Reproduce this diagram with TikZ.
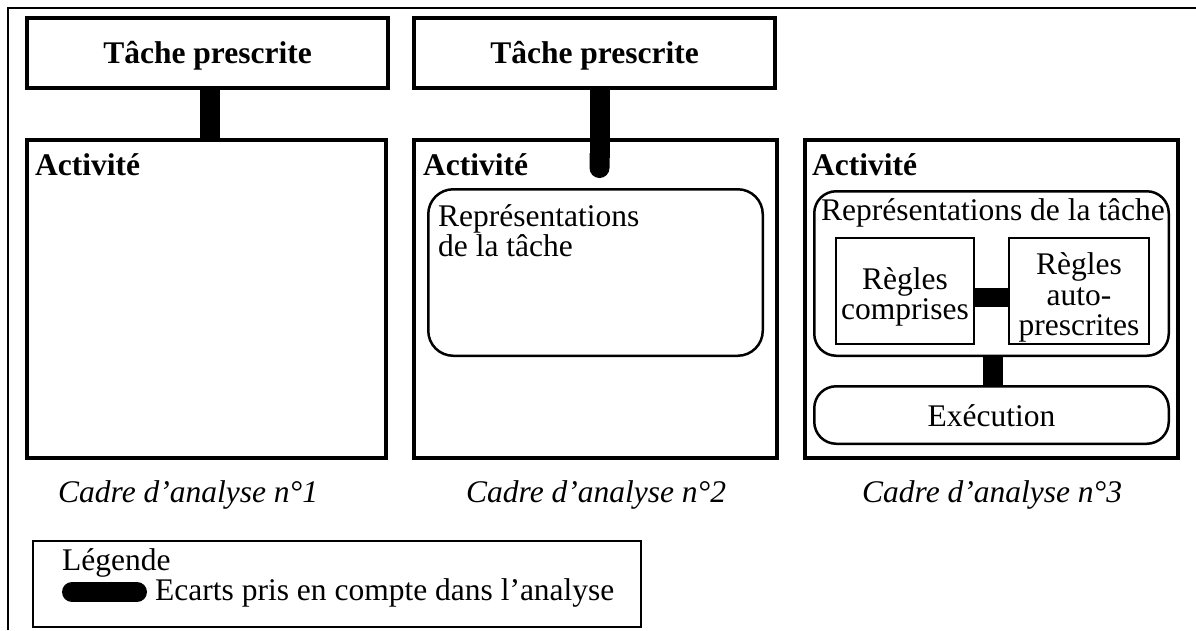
\documentclass[tikz,border=0pt]{standalone}
\usepackage{fontspec}
\setmainfont{Liberation Serif}
\usetikzlibrary{arrows.meta}
\begin{document}
\begin{tikzpicture}[x=1pt,y=-1pt,
  fnt/.style={font=\fontsize{31.5}{30.5}\selectfont},
  txt/.style={fnt, inner sep=0pt},
  boldtxt/.style={font=\fontsize{31.5}{30.5}\selectfont\bfseries, inner sep=0pt},
  captxt/.style={font=\fontsize{31.5}{30.5}\selectfont\itshape, inner sep=0pt},
  topbox/.style={draw, line width=4pt, fill=white, inner sep=0pt, font=\fontsize{31.5}{30.5}\selectfont\bfseries, minimum width=361pt, minimum height=70pt, text height=27pt, text depth=7pt},
  actbox/.style={draw, line width=4pt, inner sep=0pt, minimum height=318pt},
  repbox/.style={draw, line width=2.5pt, inner sep=0pt, fnt},
  rulebox/.style={draw, line width=2pt, inner sep=0pt, fnt, align=center, minimum height=106pt},
  legbox/.style={draw, line width=2pt, inner sep=0pt},
  framestyle/.style={line width=2.5pt},
  gapbar/.style={line width=20pt, line cap=butt},
]
\useasboundingbox (0,0) rectangle (1196,630);

% outer frame
\coordinate (f1) at (8,630);
\coordinate (f2) at (8,8);
\coordinate (f3) at (1196,8);
\draw[framestyle] (f1) -- (f2) -- (f3);

% prescribed task boxes
\node[topbox] (t1) at (207.5,53) {Tâche prescrite};
\node[topbox] (t2) at (594.5,53) {Tâche prescrite};

% activity boxes
\node[actbox, minimum width=359pt] (a1) at (206.5,299) {};
\node[actbox, minimum width=363pt] (a2) at (595.5,299) {};
\node[actbox, minimum width=373pt] (a3) at (991.5,299) {};
\node[boldtxt, anchor=base west] (at1) at (35,175) {Activité};
\node[boldtxt, anchor=base west] (at2) at (423,175) {Activité};
\node[boldtxt, anchor=base west] (at3) at (812,175) {Activité};

% panel 2
\node[repbox, rounded corners=25pt, minimum width=334.5pt, minimum height=166.5pt] (r2) at (595.5,272.5) {};
\node[txt, anchor=north west, align=left] (r2t) at (438,204) {Représentations\\de la tâche};

% panel 3
\node[repbox, rounded corners=22pt, minimum width=354.5pt, minimum height=164.5pt] (r3) at (991.5,273.5) {};
\node[txt, anchor=base] (r3t) at (993,220) {Représentations de la tâche};
\node[rulebox, minimum width=138pt] (rc) at (905,291) {\rule{0pt}{33.5pt}Règles\\comprises};
\node[rulebox, minimum width=140pt] (ra) at (1079,291) {\rule{0pt}{35.5pt}Règles\\auto-\\prescrites};
\node[repbox, rounded corners=22pt, minimum width=354.5pt, minimum height=57.5pt, text height=28pt, text depth=4.6pt] (ex) at (991.5,415) {Exécution};

% connectors (gaps)
\coordinate (c1a) at ([xshift=2.5pt]t1.south);
\coordinate (c1b) at (c1a |- a1.north);
\draw[gapbar] (c1a) -- (c1b);
\coordinate (c2a) at ([xshift=5pt]t2.south);
\coordinate (c2m) at (c2a |- r2.north);
\coordinate (c2b) at ([yshift=10pt]c2m);
\draw[gapbar, -{Round Cap[]}] (c2a) -- (c2b);
\draw[gapbar, line width=19pt] ([yshift=-6.5pt]rc.east) -- ([yshift=-6.5pt]ra.west);
\draw[gapbar] ([xshift=1.5pt]r3.south) -- ([xshift=1.5pt]ex.north);

% captions
\node[captxt, anchor=base west] (cap1) at (58,502) {Cadre d’analyse n°1};
\node[captxt, anchor=base west] (cap2) at (466,502) {Cadre d’analyse n°2};
\node[captxt, anchor=base west] (cap3) at (862,502) {Cadre d’analyse n°3};

% legend
\node[legbox, minimum width=608pt, minimum height=86pt] (leg) at (337,584) {};
\node[txt, anchor=base west] (legt) at (62,570) {Légende};
\coordinate (pl) at (72,592);
\coordinate (pr) at (137,592);
\draw[gapbar, line cap=round] (pl) -- (pr);
\node[txt, anchor=base west] (legd) at (155,600) {Ecarts pris en compte dans l’analyse};
\end{tikzpicture}
\end{document}
